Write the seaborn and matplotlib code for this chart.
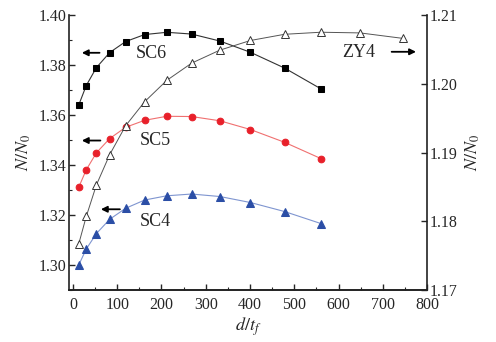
import numpy as np
import pandas as pd
import matplotlib
matplotlib.use("Agg")
import matplotlib.pyplot as plt
import seaborn as sns
from matplotlib.ticker import MultipleLocator

# ---- data ----
x_sc = [13, 30, 53, 83, 119, 162, 212, 268, 332, 401, 478, 560]
sc6 = [1.3640, 1.3718, 1.3790, 1.3850, 1.3894, 1.3922, 1.3931, 1.3924, 1.3896, 1.3851, 1.3788, 1.3705]
sc5 = [1.3311, 1.3381, 1.3449, 1.3506, 1.3551, 1.3579, 1.3595, 1.3594, 1.3577, 1.3542, 1.3491, 1.3426]
sc4 = [1.3000, 1.3064, 1.3126, 1.3183, 1.3227, 1.3260, 1.3277, 1.3284, 1.3274, 1.3250, 1.3214, 1.3166]
x_zy = [13, 30, 53, 83, 119, 162, 212, 268, 332, 401, 478, 560, 649, 746]
zy4 = [1.1767, 1.1807, 1.1853, 1.1897, 1.1939, 1.1974, 1.2005, 1.2030, 1.2049, 1.2063, 1.2072, 1.2075, 1.2074, 1.2066]

x_ticks = [0, 100, 200, 300, 400, 500, 600, 700, 800]
left_ticks = [1.30, 1.32, 1.34, 1.36, 1.38, 1.40]
right_ticks = [1.17, 1.18, 1.19, 1.20, 1.21]

sns.set_style("ticks")
plt.rcParams['font.family'] = ['Liberation Serif', 'DejaVu Serif']
plt.rcParams['mathtext.fontset'] = 'stix'

fig = plt.figure(figsize=(4.96, 3.42), dpi=100)
fig.patch.set_facecolor('white')
ax = fig.add_axes([0.140, 0.152, 0.721, 0.804])
ax2 = ax.twinx()

df_sc6 = pd.DataFrame({"x": x_sc, "y": sc6})
df_sc5 = pd.DataFrame({"x": x_sc, "y": sc5})
df_sc4 = pd.DataFrame({"x": x_sc, "y": sc4})
df_zy4 = pd.DataFrame({"x": x_zy, "y": zy4})

sns.lineplot(data=df_sc6, x="x", y="y", ax=ax, color="#333333", lw=0.8,
             marker="s", markersize=4.3, markerfacecolor="black",
             markeredgecolor="black", sort=False)
sns.lineplot(data=df_sc5, x="x", y="y", ax=ax, color="#f07070", lw=0.8,
             marker="o", markersize=4.8, markerfacecolor="#e8202a",
             markeredgecolor="#e8202a", sort=False)
sns.lineplot(data=df_sc4, x="x", y="y", ax=ax, color="#7f95d0", lw=0.8,
             marker="^", markersize=5.3, markerfacecolor="#2b4ea6",
             markeredgecolor="#2b4ea6", sort=False)
sns.lineplot(data=df_zy4, x="x", y="y", ax=ax2, color="#555555", lw=0.7,
             marker="^", markersize=5.5, markerfacecolor="white",
             markeredgecolor="#333333", markeredgewidth=0.7, sort=False)

ax.set_xlim(-8, 800)
ax.set_ylim(1.29, 1.40)
ax2.set_ylim(1.17, 1.21)

ax.set_xticks(x_ticks)
ax.set_xticklabels([str(t) for t in x_ticks])
ax.xaxis.set_minor_locator(MultipleLocator(50))
ax.set_yticks(left_ticks)
ax.set_yticklabels([f"{t:.2f}" for t in left_ticks])
ax.yaxis.set_minor_locator(MultipleLocator(0.01))
ax2.set_yticks(right_ticks)
ax2.set_yticklabels([f"{t:.2f}" for t in right_ticks])

for a in (ax, ax2):
    a.spines['top'].set_visible(False)
    for s in a.spines.values():
        s.set_linewidth(1.2)
        s.set_color('#222222')
    a.tick_params(which='major', direction='in', length=4, width=1, labelsize=11.5, pad=2)
    a.tick_params(which='minor', direction='in', length=2.5, width=0.8)
ax.spines['right'].set_visible(False)
ax2.spines['left'].set_visible(False)
ax.tick_params(axis='x', pad=5)

ax.set_xlabel(r"$d/t_f$", fontsize=13, labelpad=2)
ax.set_ylabel(r"$N/N_0$", fontsize=13, labelpad=4)
ax2.set_ylabel(r"$N/N_0$", fontsize=13, labelpad=4)

# annotations
fs = 13
ax.text(177, 1.3845, "SC6", fontsize=fs, ha="center", va="center")
ax.text(187, 1.3498, "SC5", fontsize=fs, ha="center", va="center")
ax.text(186, 1.3175, "SC4", fontsize=fs, ha="center", va="center")
ax.text(645, 1.3849, "ZY4", fontsize=fs, ha="center", va="center")
arrow = dict(arrowstyle="-|>", color="black", lw=1.3, mutation_scale=9, shrinkA=0, shrinkB=0)
ax.annotate("", xy=(20, 1.3849), xytext=(60, 1.3849), arrowprops=arrow)
ax.annotate("", xy=(20, 1.3498), xytext=(62, 1.3498), arrowprops=arrow)
ax.annotate("", xy=(63, 1.3223), xytext=(106, 1.3223), arrowprops=arrow)
ax.annotate("", xy=(775, 1.3853), xytext=(720, 1.3853), arrowprops=arrow)

fig.savefig("out.png", dpi=100, facecolor='white')
